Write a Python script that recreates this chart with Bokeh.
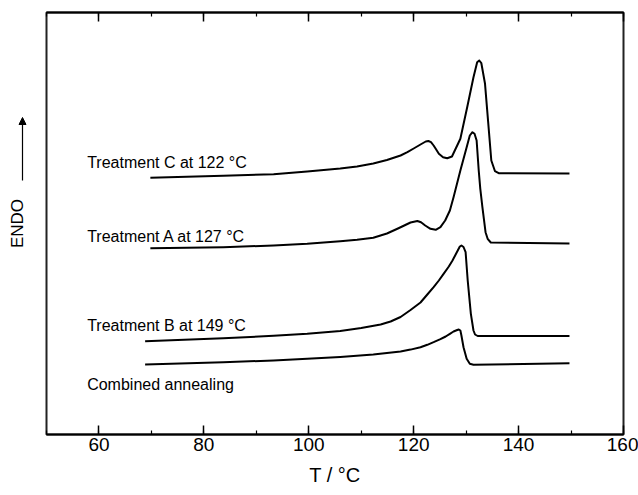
from math import pi
from bokeh.plotting import figure
from bokeh.layouts import row
from bokeh.models import Range1d, LinearAxis, SingleIntervalTicker, Label, Arrow, NormalHead
from bokeh.core.properties import value
from bokeh.embed import file_html
from bokeh.resources import INLINE

# Temperatures (°C) and endotherm signal (arbitrary units)
c_t = [69.8, 83.7, 93.3, 99.7, 106.0, 109.2, 112.3, 114.9, 117.5, 118.8, 120.0, 121.3, 122.3, 122.8,
       123.3, 123.8, 124.2, 124.8, 125.6, 126.4, 127.3, 128.9, 130.2, 131.4, 132.1, 132.5, 132.9,
       133.6, 134.2, 134.8, 135.5, 136.2, 149.7]
c_y = [256.7, 258.7, 260.3, 263, 266, 268, 271, 274.5, 279, 282.3, 286, 290, 293, 293.5,
       292.3, 289, 285.7, 280.7, 277.3, 276.3, 278, 295.7, 327.3, 357.3, 372.3, 374, 371.3,
       350.7, 312.3, 274, 263.3, 261.3, 261]

a_t = [69.8, 83.7, 93.3, 99.7, 106.0, 109.2, 112.3, 114.9, 117.0, 118.0, 119.4, 120.7, 121.4,
       122.2, 123.2, 124.2, 125.1, 126.0, 126.9, 127.6, 128.9, 130.1, 130.7, 131.2, 131.6, 132.0,
       132.4, 132.7, 133.1, 133.7, 134.1, 134.7, 149.7]
a_y = [186.3, 187.3, 189, 190.7, 193.3, 194.7, 196.7, 201, 206, 208.5, 212, 213.5, 212.3,
       209, 205.7, 204.7, 207.3, 214, 224, 237.3, 264, 287.3, 299, 302.3, 300.7, 294,
       264, 245.7, 227.3, 202.3, 195.7, 192, 191]

b_t = [68.8, 83.7, 93.3, 99.7, 106.0, 110.0, 113.7, 115.6, 117.5, 119.4, 121.3, 122.6, 123.8, 124.8,
       125.7, 126.7, 127.4, 128.0, 128.4, 128.8, 129.1, 129.5, 129.9, 130.3, 130.9, 131.4, 131.7,
       132.2, 149.7]
b_y = [93.3, 96.3, 98.7, 100.7, 103.5, 106.5, 110, 113, 117.5, 124.5, 132, 140, 147.3, 154,
       160.7, 168, 174, 180, 184, 188, 189, 187.5, 182.3, 154, 120.7, 104, 100,
       98.5, 98.5]

m_t = [68.8, 83.7, 93.3, 99.7, 106.0, 112.3, 117.5, 119.4, 121.3, 122.6, 123.8, 125.1, 126.1, 126.9,
       127.6, 128.3, 128.6, 128.9, 129.1, 129.5, 130.1, 130.7, 131.4, 149.7]
m_y = [70, 72.3, 74, 75.7, 77.5, 80, 83, 84.9, 87.3, 89.7, 92.3, 95.3, 98, 100.7,
       103, 104.5, 105, 104, 99, 87.3, 75.7, 70.7, 69.7, 71.3]

labels = ["Treatment C at 122 °C", "Treatment A at 127 °C", "Treatment B at 149 °C", "Combined annealing"]
label_x = [57.75, 57.75, 57.75, 57.75]
label_y = [272, 198, 109, 50]

x_title = "T / °C"
y_title = "ENDO"

FONT = "Liberation Sans"
Y_MAX = 422

# ---------- left strip with the ENDO label and arrow (frame aligned with main plot) ----------
side = figure(width=45, height=495, output_backend="svg", toolbar_location=None,
              x_range=Range1d(0, 45), y_range=Range1d(0, Y_MAX),
              x_axis_location=None, y_axis_location=None,
              min_border_left=0, min_border_right=0, min_border_top=12, min_border_bottom=61)
side.grid.visible = False
side.outline_line_color = None
side.background_fill_color = "white"
side.border_fill_color = "white"
side.text(x=[17], y=[Y_MAX / 2], text=[y_title], angle=pi / 2, text_align="center",
          text_baseline="middle", text_font=value(FONT), text_font_size="17px", text_color="black")
side.add_layout(Arrow(end=NormalHead(size=7, fill_color="black", line_color="black"),
                      x_start=22, y_start=254, x_end=22, y_end=317,
                      line_color="black", line_width=1.2))

# ---------- main plot ----------
p = figure(width=593, height=495, output_backend="svg", toolbar_location=None,
           x_range=Range1d(50, 160), y_range=Range1d(0, Y_MAX), y_axis_location=None,
           min_border_left=1, min_border_right=15, min_border_top=12, min_border_bottom=61)
p.grid.visible = False
p.background_fill_color = "white"
p.border_fill_color = "white"
p.outline_line_color = "#222222"
p.outline_line_width = 2

xa = p.xaxis[0]
xa.ticker = SingleIntervalTicker(interval=20, num_minor_ticks=2)
xa.major_tick_in = 9
xa.major_tick_out = 0
xa.minor_tick_in = 4
xa.minor_tick_out = 0
xa.axis_line_width = 2
xa.major_tick_line_width = 1.5
xa.minor_tick_line_width = 1.2
xa.major_label_text_font = FONT
xa.major_label_text_font_size = "19px"
xa.major_label_text_color = "black"
xa.major_label_standoff = 3
xa.axis_label = x_title
xa.axis_label_text_font = FONT
xa.axis_label_text_font_size = "20px"
xa.axis_label_text_font_style = "normal"
xa.axis_label_text_color = "black"
xa.axis_label_standoff = 10

top = LinearAxis(ticker=SingleIntervalTicker(interval=20, num_minor_ticks=2),
                 major_tick_in=9, major_tick_out=0, minor_tick_in=4, minor_tick_out=0,
                 axis_line_width=2, major_label_text_font_size="0px", major_label_standoff=0)
top.major_label_text_alpha = 0
top.major_tick_line_width = 1.5
top.minor_tick_line_width = 1.2
p.add_layout(top, "above")

for t, y in [(c_t, c_y), (a_t, a_y), (b_t, b_y), (m_t, m_y)]:
    p.line(t, y, line_color="black", line_width=2, line_join="round")

for txt, lx, ly in zip(labels, label_x, label_y):
    p.add_layout(Label(x=lx, y=ly, text=txt, text_font=FONT, text_font_size="16px",
                       text_color="black", text_baseline="alphabetic", text_align="left"))

layout = row(side, p, spacing=0)
open("out.html", "w").write(file_html(layout, INLINE))
